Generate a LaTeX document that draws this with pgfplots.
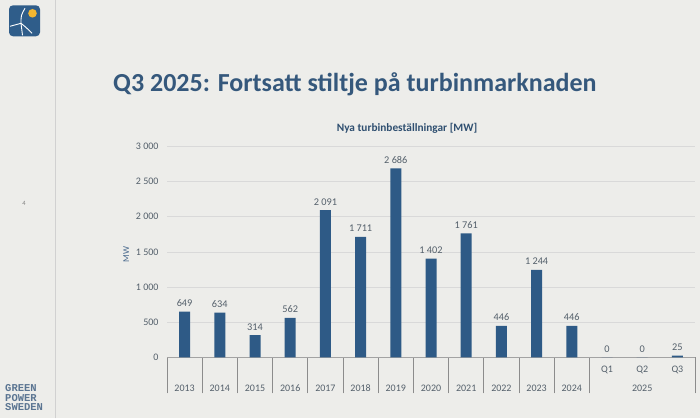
\documentclass[border=0pt]{standalone}
\usepackage{pgfplots}
\pgfplotsset{compat=1.18}
\usepackage{fontspec}
\setmainfont{Carlito}
\newfontfamily\gpsfont{Liberation Mono}
\definecolor{bg}{HTML}{EDEDEA}
\definecolor{barblue}{HTML}{2E5A86}
\definecolor{titleblue}{HTML}{35587C}
\definecolor{lblgray}{HTML}{54606B}
\definecolor{gridgray}{HTML}{D9D9D9}
\definecolor{sepgray}{HTML}{8C8C8C}
\definecolor{logoblue}{HTML}{2F5D8A}
\definecolor{sun}{HTML}{F2B631}
\definecolor{gpsblue}{HTML}{5B7592}
\definecolor{ctitle}{HTML}{2F4F70}
\definecolor{mwblue}{HTML}{4A6A8E}
\begin{document}
\begin{tikzpicture}[x=1pt,y=1pt]
\fill[bg] (0,0) rectangle (700,418);
\draw[black!18, line width=0.6pt] (55,0) -- (55,418);
% logo
\fill[logoblue, rounded corners=4pt] (9,418-36) rectangle (40,418-5);
\fill[sun] (32.5,418-13) circle (4.3);
\draw[white, line width=0.9pt] (21,418-23) -- (22.5,418-35);
\draw[white, line width=0.9pt] (21,418-23) .. controls (21,418-15) .. (25,418-8);
\draw[white, line width=0.9pt] (21,418-23) .. controls (15,418-24) .. (10,418-26);
\draw[white, line width=0.9pt] (21,418-23) .. controls (26,418-27) .. (32,418-33);
% page number
\node[text=gray, font=\fontsize{6.5}{7}\selectfont] at (24,418-203) {4};
% brand
\node[anchor=north west, text=gpsblue, font=\gpsfont\bfseries\fontsize{10.5}{9.6}\selectfont, align=left, inner sep=0pt] at (5,418-384) {GREEN\\POWER\\SWEDEN};
% title
\node[anchor=west, text=titleblue, font=\bfseries\fontsize{26}{30}\selectfont, inner sep=0pt] at (113,418-84) {Q3 2025: Fortsatt stiltje på turbinmarknaden};
% chart title
\node[text=ctitle, font=\bfseries\fontsize{11.3}{13}\selectfont] at (407,418-128) {Nya turbinbeställningar [MW]};
\begin{axis}[
  at={(167pt,61pt)}, anchor=south west,
  width=528pt, height=211pt, scale only axis,
  xmin=-0.5, xmax=14.5, ymin=0, ymax=3000,
  axis x line*=bottom, axis y line*=left,
  y axis line style={draw=none},
  x axis line style={draw=sepgray!80, line width=0.8pt},
  ytick={0,500,1000,1500,2000,2500,3000},
  ytick style={draw=none}, ytick align=inside,
  ymajorgrids, grid style={gridgray, line width=0.6pt},
  yticklabel style={text=lblgray, font=\fontsize{10}{11}\selectfont, xshift=-5pt},
  /pgf/number format/assume math mode=true,
  /pgf/number format/1000 sep={\ },
  xtick={-0.5,0.5,1.5,2.5,3.5,4.5,5.5,6.5,7.5,8.5,9.5,10.5,11.5,14.5},
  xticklabels={},
  major tick length=36pt, xtick align=outside,
  xtick style={draw=sepgray, line width=0.8pt},
  ylabel={MW}, ylabel style={text=mwblue, font=\fontsize{9}{10}\selectfont},
  every axis y label/.append style={at={(ticklabel cs:0.5)}, xshift=-3pt},
  clip=false,
]
\addplot[ybar, bar width=11pt, fill=barblue, draw=none,
  nodes near coords,
  every node near coord/.append style={text=lblgray, font=\fontsize{10.3}{11}\selectfont, yshift=1.5pt,
    /pgf/number format/1000 sep={\ }, /pgf/number format/assume math mode=true}]
coordinates {(0,649) (1,634) (2,314) (3,562) (4,2091) (5,1711) (6,2686) (7,1402) (8,1761) (9,446) (10,1244) (11,446) (12,0) (13,0) (14,25)};
\pgfplotsinvokeforeach{0,...,11}{
  \node[text=lblgray, font=\fontsize{10}{11}\selectfont] at (axis cs:#1,0) [yshift=-31pt] {\pgfmathparse{int(2013+#1)}\pgfmathresult};
}
\node[text=lblgray, font=\fontsize{10}{11}\selectfont] at (axis cs:12,0) [yshift=-13pt] {Q1};
\node[text=lblgray, font=\fontsize{10}{11}\selectfont] at (axis cs:13,0) [yshift=-13pt] {Q2};
\node[text=lblgray, font=\fontsize{10}{11}\selectfont] at (axis cs:14,0) [yshift=-13pt] {Q3};
\node[text=lblgray, font=\fontsize{10}{11}\selectfont] at (axis cs:13,0) [yshift=-31pt] {2025};
\end{axis}
\end{tikzpicture}
\end{document}
